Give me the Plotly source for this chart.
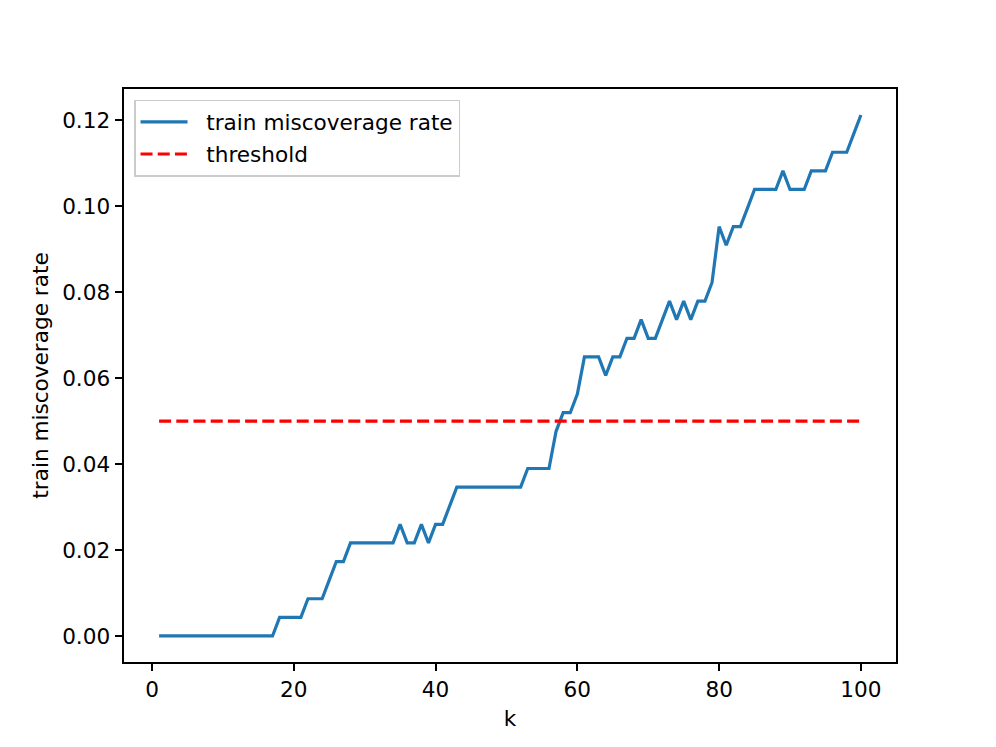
import plotly.graph_objects as go

# k values (1..100)
k = list(range(1, 101))

# train miscoverage rate
rate = [
    0.0, 0.0, 0.0, 0.0, 0.0, 0.0, 0.0, 0.0, 0.0, 0.0,
    0.0, 0.0, 0.0, 0.0, 0.0, 0.0, 0.0, 0.004329, 0.004329, 0.004329,
    0.004329, 0.008658, 0.008658, 0.008658, 0.012987, 0.017316, 0.017316, 0.021645, 0.021645, 0.021645,
    0.021645, 0.021645, 0.021645, 0.021645, 0.025974, 0.021645, 0.021645, 0.025974, 0.021645, 0.025974,
    0.025974, 0.030303, 0.034632, 0.034632, 0.034632, 0.034632, 0.034632, 0.034632, 0.034632, 0.034632,
    0.034632, 0.034632, 0.038961, 0.038961, 0.038961, 0.038961, 0.047619, 0.051948, 0.051948, 0.056277,
    0.064935, 0.064935, 0.064935, 0.060606, 0.064935, 0.064935, 0.069264, 0.069264, 0.073593, 0.069264,
    0.069264, 0.073593, 0.077922, 0.073593, 0.077922, 0.073593, 0.077922, 0.077922, 0.082251, 0.095238,
    0.090909, 0.095238, 0.095238, 0.099567, 0.103896, 0.103896, 0.103896, 0.103896, 0.108225, 0.103896,
    0.103896, 0.103896, 0.108225, 0.108225, 0.108225, 0.112554, 0.112554, 0.112554, 0.116883, 0.121212,
]

threshold = [0.05] * len(k)

x_ticks = [0, 20, 40, 60, 80, 100]
y_ticks = [0.00, 0.02, 0.04, 0.06, 0.08, 0.10, 0.12]
y_tick_labels = ["0.00", "0.02", "0.04", "0.06", "0.08", "0.10", "0.12"]

FONT = "DejaVu Sans"
FS = 21.6
PAD = "\u00a0\u00a0"

fig = go.Figure()
fig.add_trace(go.Scatter(
    x=k, y=rate, mode="lines", name=PAD + "train miscoverage rate",
    line=dict(color="#1f77b4", width=3.2), legendgroup="a",
))
fig.add_trace(go.Scatter(
    x=k, y=threshold, mode="lines", name=PAD + "threshold",
    line=dict(color="red", width=3.2, dash="12px,5.2px"), legendgroup="b",
))

axis_common = dict(
    showline=True, linecolor="black", linewidth=1.7, mirror=True,
    ticks="outside", ticklen=7.6, tickwidth=1.7, tickcolor="black",
    showgrid=False, zeroline=False,
    tickfont=dict(family=FONT, size=FS, color="black"),
)

fig.update_xaxes(
    range=[-3.95, 104.95], tickvals=x_ticks,
    title=dict(text="k", font=dict(family=FONT, size=FS, color="black"), standoff=10),
    **axis_common,
)
fig.update_yaxes(
    range=[-0.00606, 0.12727], tickvals=y_ticks, ticktext=y_tick_labels,
    title=dict(text="train miscoverage rate", font=dict(family=FONT, size=FS, color="black"), standoff=8),
    **axis_common,
)

fig.update_layout(
    width=980, height=731,
    margin=dict(l=116, r=92, t=81, b=75),
    paper_bgcolor="white", plot_bgcolor="white",
    font=dict(family=FONT, size=FS, color="black"),
    showlegend=True,
    legend=dict(
        x=0.013, y=0.981, xanchor="left", yanchor="top",
        bgcolor="rgba(255,255,255,0.8)", bordercolor="#cccccc", borderwidth=1.5,
        font=dict(family=FONT, size=FS, color="black"),
        tracegroupgap=1, itemwidth=47,
    ),
)

fig.write_html("out.html")
